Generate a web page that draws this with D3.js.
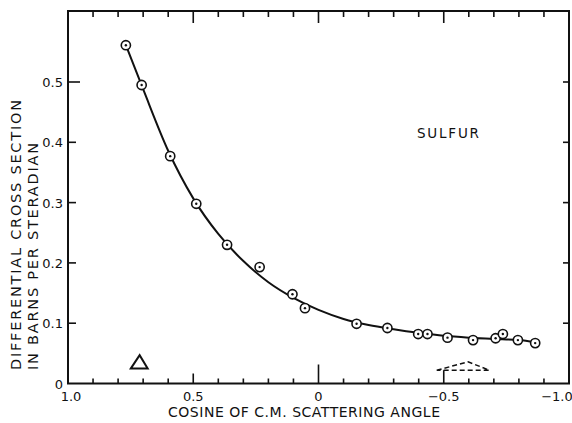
<!DOCTYPE html>
<html>
<head>
<meta charset="utf-8">
<script src="https://cdn.jsdelivr.net/npm/d3@7/dist/d3.min.js"></script>
<style>
  body { margin: 0; background: #fff; }
  svg { display: block; }
  text { font-family: "DejaVu Sans", sans-serif; fill: #111; }
</style>
</head>
<body>
<svg id="chart"></svg>
<script>
var w = 572;
var h = 423;

// measured points (cosine, barns/sr)
var cosTheta = [0.769, 0.706, 0.592, 0.488, 0.365, 0.235, 0.104, 0.054, -0.152, -0.275,
  -0.398, -0.435, -0.515, -0.617, -0.707, -0.736, -0.796, -0.865];
var sigma = [0.561, 0.495, 0.377, 0.298, 0.230, 0.193, 0.148, 0.125, 0.099, 0.092,
  0.082, 0.082, 0.076, 0.072, 0.075, 0.082, 0.072, 0.067];

// the drawn smooth curve
var curveCos = [0.769, 0.70, 0.60, 0.50, 0.40, 0.30, 0.20, 0.10, 0.0, -0.1, -0.2, -0.3,
  -0.4, -0.5, -0.6, -0.7, -0.8, -0.865];
var curveSigma = [0.561, 0.488, 0.386, 0.307, 0.248, 0.203, 0.168, 0.142, 0.122, 0.107,
  0.097, 0.090, 0.084, 0.079, 0.076, 0.074, 0.072, 0.068];

var xTicks = [1.0, 0.9, 0.8, 0.7, 0.6, 0.5, 0.4, 0.3, 0.2, 0.1, 0, -0.1, -0.2, -0.3, -0.4,
  -0.5, -0.6, -0.7, -0.8, -0.9, -1.0];
var xLabels = [1.0, 0.5, 0, -0.5, -1.0];
var yTicks = [0, 0.1, 0.2, 0.3, 0.4, 0.5];

// little triangles near the axis
var solidTri = [[0.749, 0.025], [0.714, 0.047], [0.682, 0.025]];
var dashTri = [[-0.472, 0.022], [-0.597, 0.036], [-0.682, 0.022]];

var svg = d3.select('#chart').attr('width', w).attr('height', h);

var x = d3.scaleLinear().domain([1.0, -1.0]).range([68, 569]);
var y = d3.scaleLinear().domain([0, 0.5]).range([383.5, 82]);
var top_ = 11;

var frame = svg.append('g');
frame.append('rect')
  .attr('x', x(1.0)).attr('y', top_)
  .attr('width', x(-1.0) - x(1.0)).attr('height', y(0) - top_)
  .attr('fill', 'none').attr('stroke', '#111').attr('stroke-width', 2);

function tickLen(d) {
  if (Math.abs(d) < 1e-9) return 19;
  if (Math.abs(d + 0.5) < 1e-9) return y(0) - y(0.022);
  if (Math.abs(d - 0.5) < 1e-9) return 10;
  return 5;
}
var inner = xTicks.filter(function (d) { return Math.abs(d) < 0.99; });

// bottom ticks
frame.selectAll('.bt').data(inner).enter().append('line')
  .attr('x1', function (d) { return x(d); }).attr('x2', function (d) { return x(d); })
  .attr('y1', y(0)).attr('y2', function (d) { return y(0) - tickLen(d); })
  .attr('stroke', '#111').attr('stroke-width', 1.6);

// top ticks
frame.selectAll('.tt').data(inner).enter().append('line')
  .attr('x1', function (d) { return x(d); }).attr('x2', function (d) { return x(d); })
  .attr('y1', top_).attr('y2', function (d) { return top_ + (Math.abs(Math.abs(d) - 0.5) < 1e-9 || Math.abs(d) < 1e-9 ? 12 : 6); })
  .attr('stroke', '#111').attr('stroke-width', 1.6);

// left / right ticks
var yInner = yTicks.filter(function (d) { return d > 0; });
frame.selectAll('.lt').data(yInner).enter().append('line')
  .attr('x1', x(1.0)).attr('x2', function (d) { return x(1.0) + (d === 0.5 ? 12 : 8); })
  .attr('y1', function (d) { return y(d); }).attr('y2', function (d) { return y(d); })
  .attr('stroke', '#111').attr('stroke-width', 1.6);
frame.selectAll('.rt').data(yInner).enter().append('line')
  .attr('x1', x(-1.0)).attr('x2', x(-1.0) - 6)
  .attr('y1', function (d) { return y(d); }).attr('y2', function (d) { return y(d); })
  .attr('stroke', '#111').attr('stroke-width', 1.6);

// tick labels
svg.selectAll('.yl').data(yTicks).enter().append('text')
  .attr('x', 63).attr('y', function (d) { return y(d) + 5; })
  .attr('text-anchor', 'end').attr('font-size', 13)
  .text(function (d) { return d === 0 ? '0' : d.toFixed(1); });

svg.selectAll('.xl').data(xLabels).enter().append('text')
  .attr('x', function (d) { return x(d) + (d === 1 ? 3 : (d === -1 ? -12 : 0)); }).attr('y', 401)
  .attr('text-anchor', 'middle').attr('font-size', 13)
  .text(function (d) { return d === 0 ? '0' : (d < 0 ? '\u2212' : '') + Math.abs(d).toFixed(1); });

// axis titles
svg.append('text')
  .attr('x', 168).attr('y', 417)
  .attr('font-size', 14)
  .attr('textLength', 272).attr('lengthAdjust', 'spacing')
  .text('COSINE  OF  C.M.  SCATTERING  ANGLE');

svg.append('text')
  .attr('transform', 'translate(21,370) rotate(-90)')
  .attr('font-size', 14.5)
  .attr('textLength', 270).attr('lengthAdjust', 'spacing')
  .text('DIFFERENTIAL  CROSS  SECTION');
svg.append('text')
  .attr('transform', 'translate(38,370) rotate(-90)')
  .attr('font-size', 14.5)
  .attr('textLength', 227).attr('lengthAdjust', 'spacing')
  .text('IN  BARNS  PER  STERADIAN');

svg.append('text')
  .attr('x', 417).attr('y', 138)
  .attr('font-size', 13.5)
  .attr('textLength', 62).attr('lengthAdjust', 'spacing')
  .text('SULFUR');

// fitted curve
var curveData = curveCos.map(function (c, i) { return [c, curveSigma[i]]; });
var line = d3.line()
  .x(function (d) { return x(d[0]); })
  .y(function (d) { return y(d[1]); })
  .curve(d3.curveMonotoneX);
svg.append('path')
  .datum(curveData)
  .attr('d', line)
  .attr('fill', 'none').attr('stroke', '#111').attr('stroke-width', 2);

// data points
var pts = cosTheta.map(function (c, i) { return [c, sigma[i]]; });
var pg = svg.append('g').selectAll('g').data(pts).enter().append('g')
  .attr('transform', function (d) { return 'translate(' + x(d[0]) + ',' + y(d[1]) + ')'; });
pg.append('circle').attr('r', 4.6)
  .attr('fill', '#fff').attr('stroke', '#111').attr('stroke-width', 1.6);
pg.append('circle').attr('r', 1.2).attr('fill', '#111');

// triangles
var triLine = d3.line()
  .x(function (d) { return x(d[0]); })
  .y(function (d) { return y(d[1]); });
svg.append('path')
  .attr('d', triLine(solidTri) + 'Z')
  .attr('fill', 'none').attr('stroke', '#111').attr('stroke-width', 2)
  .attr('stroke-linejoin', 'miter');
svg.append('path')
  .attr('d', triLine(dashTri) + 'Z')
  .attr('fill', 'none').attr('stroke', '#111').attr('stroke-width', 1.5)
  .attr('stroke-dasharray', '5,3');
</script>
</body>
</html>
